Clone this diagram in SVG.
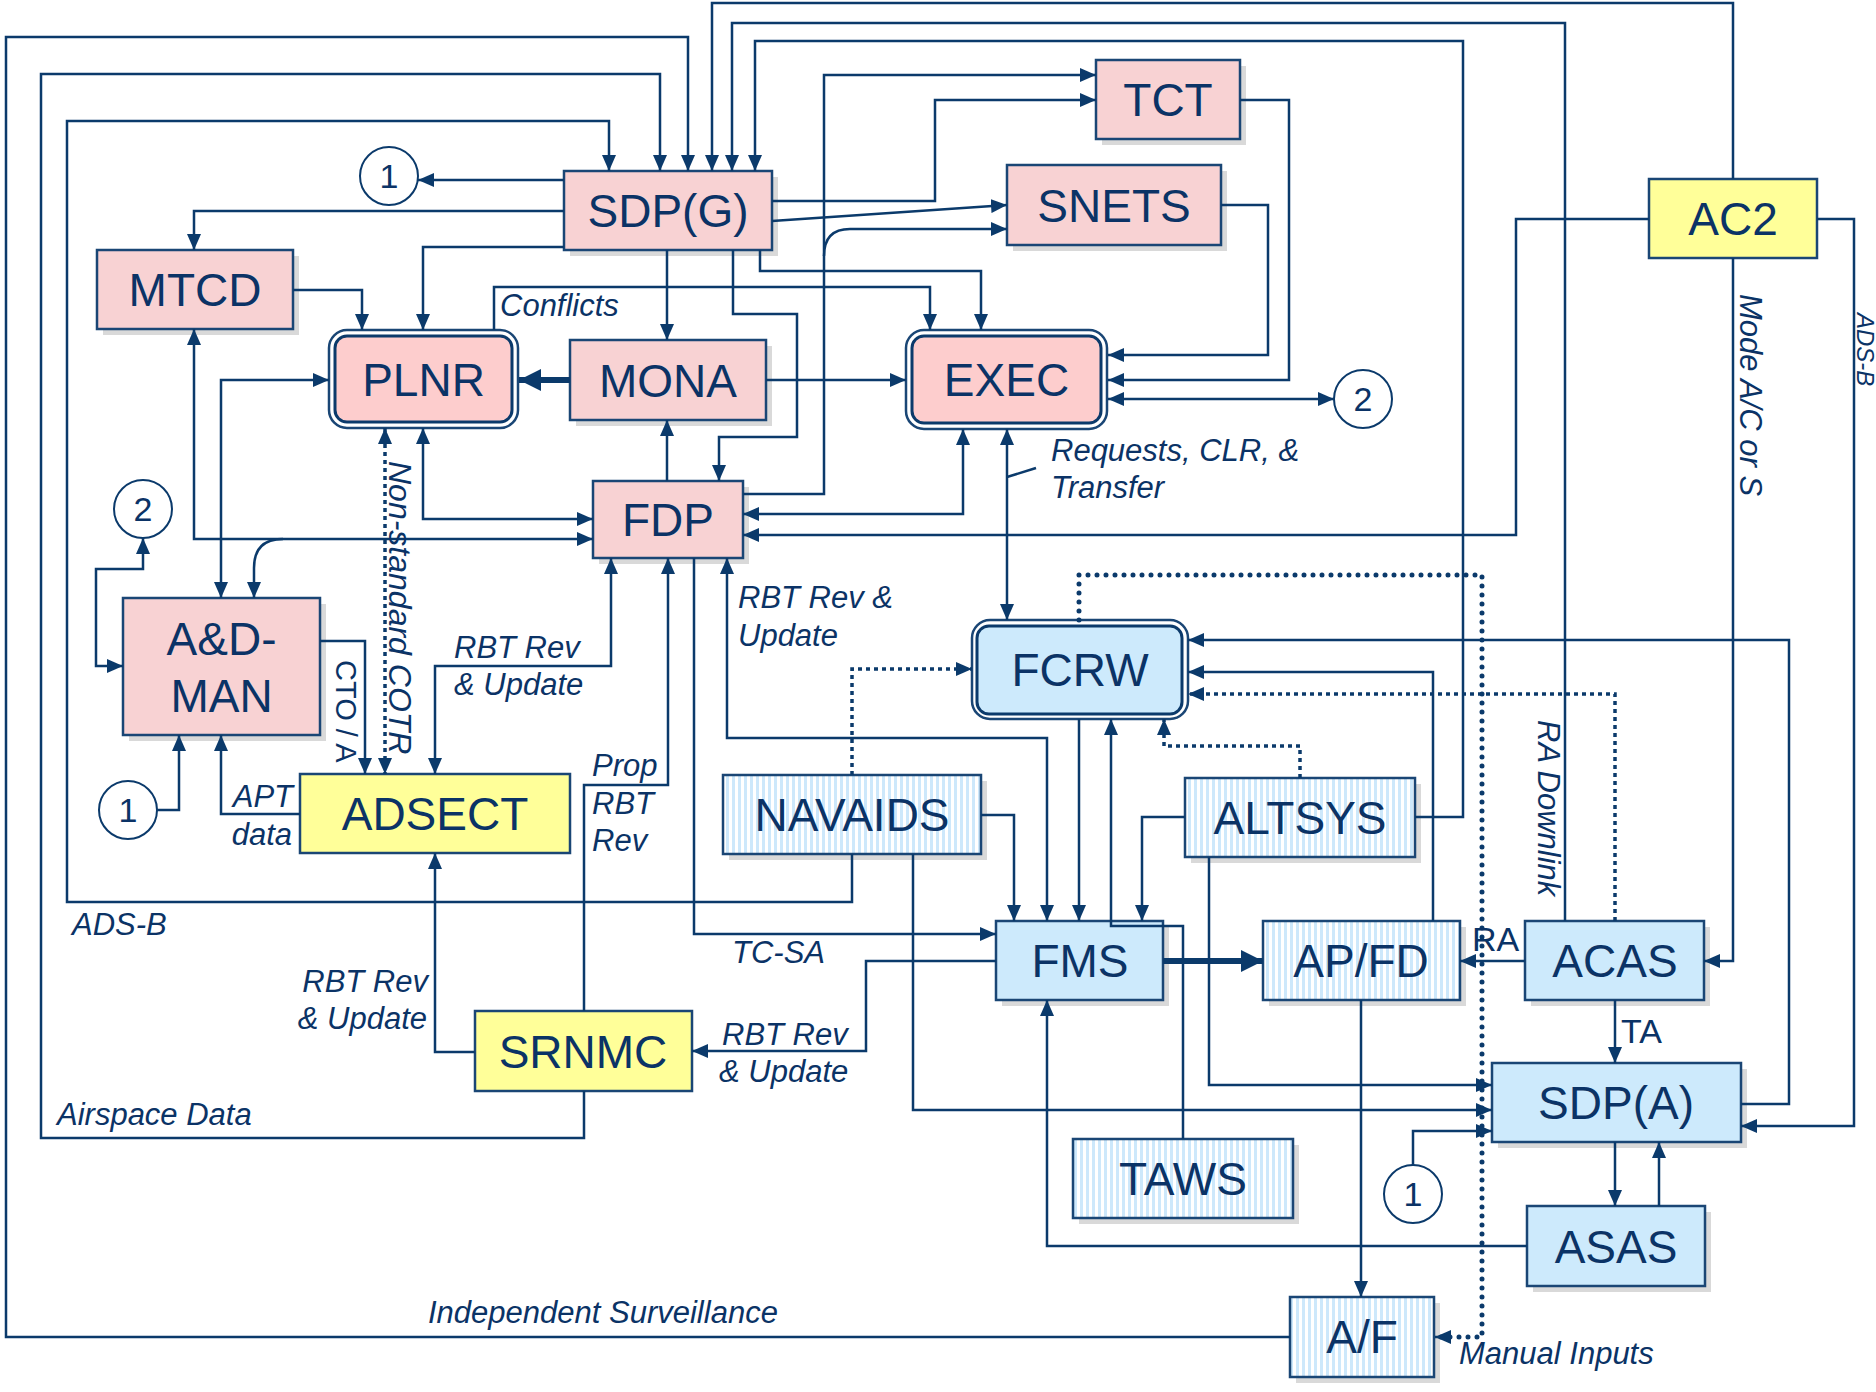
<svg xmlns="http://www.w3.org/2000/svg" width="1876" height="1392" viewBox="0 0 1876 1392">
<defs>
<style>
.ln{fill:none;stroke:#0b3a6b;stroke-width:2.5}
.tk{stroke-width:6}
.dt{stroke-dasharray:4 4;stroke-width:3.5}
.rd{stroke-dasharray:0 9;stroke-linecap:round;stroke-width:5}
.bx{stroke:#1a4675;stroke-width:2.5}
.pk{fill:#f8d2d3}
.pk2{fill:#fdcdcd}
.yl{fill:#ffff99}
.bl{fill:#cdeafc}
.st{fill:url(#stripe)}
.sh{fill:#d9d9d9}
.wh{fill:#ffffff}
.cr{fill:#ffffff;stroke:#0b3a6b;stroke-width:2}
.nl{font-family:"Liberation Sans",Arial,sans-serif;font-size:46px;fill:#0b3366;text-anchor:middle}
.cn{font-family:"Liberation Sans",Arial,sans-serif;font-size:34px;fill:#0b3366;text-anchor:middle}
.it{font-family:"Liberation Sans",Arial,sans-serif;font-size:31px;font-style:italic;fill:#0b3366}
.up{font-family:"Liberation Sans",Arial,sans-serif;font-size:34px;fill:#0b3366}
.ra{text-anchor:end}
</style>
<marker id="ah" viewBox="0 0 16 14" refX="16" refY="7" markerWidth="16" markerHeight="14" markerUnits="userSpaceOnUse" orient="auto-start-reverse"><path d="M0,0 L16,7 L0,14 z" fill="#0b3a6b"/></marker>
<marker id="ahb" viewBox="0 0 22 22" refX="22" refY="11" markerWidth="22" markerHeight="22" markerUnits="userSpaceOnUse" orient="auto"><path d="M0,0 L22,11 L0,22 z" fill="#0b3a6b"/></marker>
<pattern id="stripe" width="6" height="10" patternUnits="userSpaceOnUse"><rect width="6" height="10" fill="#ffffff"/><rect width="3" height="10" fill="#cde8fb"/></pattern>
</defs>
<rect width="1876" height="1392" fill="#ffffff"/>

<g id="SDPG"><rect class="sh" x="570" y="177" width="208" height="79"/><rect class="bx pk" x="564" y="171" width="208" height="79"/><text class="nl" x="668" y="227">SDP(G)</text></g>
<g id="MTCD"><rect class="sh" x="103" y="256" width="196" height="79"/><rect class="bx pk" x="97" y="250" width="196" height="79"/><text class="nl" x="195" y="306">MTCD</text></g>
<g id="PLNR"><rect class="bx wh" x="329" y="330" width="189" height="98" rx="18"/><rect class="pk2" x="335" y="336" width="177" height="86" rx="12" stroke="#0b3a6b" stroke-width="3"/><text class="nl" x="423.5" y="396">PLNR</text></g>
<g id="MONA"><rect class="sh" x="576" y="346" width="196" height="80"/><rect class="bx pk" x="570" y="340" width="196" height="80"/><text class="nl" x="668" y="397">MONA</text></g>
<g id="FDP"><rect class="sh" x="599" y="487" width="150" height="77"/><rect class="bx pk" x="593" y="481" width="150" height="77"/><text class="nl" x="668" y="536">FDP</text></g>
<g id="TCT"><rect class="sh" x="1102" y="66" width="144" height="79"/><rect class="bx pk" x="1096" y="60" width="144" height="79"/><text class="nl" x="1168" y="116">TCT</text></g>
<g id="SNETS"><rect class="sh" x="1013" y="171" width="214" height="80"/><rect class="bx pk" x="1007" y="165" width="214" height="80"/><text class="nl" x="1114" y="222">SNETS</text></g>
<g id="EXEC"><rect class="bx wh" x="906" y="330" width="201" height="99" rx="18"/><rect class="pk2" x="912" y="336" width="189" height="87" rx="12" stroke="#0b3a6b" stroke-width="3"/><text class="nl" x="1006.5" y="396">EXEC</text></g>
<g id="AC2"><rect class="bx yl" x="1649" y="179" width="168" height="79"/><text class="nl" x="1733" y="235">AC2</text></g>
<g id="ADMAN"><rect class="sh" x="129" y="604" width="197" height="137"/><rect class="bx pk" x="123" y="598" width="197" height="137"/><text class="nl" x="221.5" y="655">A&amp;D-</text><text class="nl" x="221.5" y="712">MAN</text></g>
<g id="ADSECT"><rect class="bx yl" x="300" y="774" width="270" height="79"/><text class="nl" x="435" y="830">ADSECT</text></g>
<g id="NAVAIDS"><rect class="sh" x="729" y="781" width="258" height="79"/><rect class="bx st" x="723" y="775" width="258" height="79"/><text class="nl" x="852" y="831">NAVAIDS</text></g>
<g id="ALTSYS"><rect class="sh" x="1191" y="784" width="230" height="79"/><rect class="bx st" x="1185" y="778" width="230" height="79"/><text class="nl" x="1300" y="834">ALTSYS</text></g>
<g id="FCRW"><rect class="bx wh" x="972" y="620" width="216" height="99" rx="18"/><rect class="bl" x="977" y="626" width="205" height="88" rx="12" stroke="#0b3a6b" stroke-width="3"/><text class="nl" x="1080" y="686">FCRW</text></g>
<g id="FMS"><rect class="sh" x="1002" y="927" width="167" height="79"/><rect class="bx bl" x="996" y="921" width="167" height="79"/><text class="nl" x="1080" y="977">FMS</text></g>
<g id="APFD"><rect class="sh" x="1269" y="927" width="197" height="79"/><rect class="bx st" x="1263" y="921" width="197" height="79"/><text class="nl" x="1361" y="977">AP/FD</text></g>
<g id="ACAS"><rect class="sh" x="1531" y="927" width="179" height="79"/><rect class="bx bl" x="1525" y="921" width="179" height="79"/><text class="nl" x="1615" y="977">ACAS</text></g>
<g id="SDPA"><rect class="sh" x="1498" y="1069" width="249" height="79"/><rect class="bx bl" x="1492" y="1063" width="249" height="79"/><text class="nl" x="1616" y="1119">SDP(A)</text></g>
<g id="ASAS"><rect class="sh" x="1533" y="1212" width="178" height="80"/><rect class="bx bl" x="1527" y="1206" width="178" height="80"/><text class="nl" x="1616" y="1263">ASAS</text></g>
<g id="TAWS"><rect class="sh" x="1079" y="1145" width="220" height="79"/><rect class="bx st" x="1073" y="1139" width="220" height="79"/><text class="nl" x="1183" y="1195">TAWS</text></g>
<g id="AF"><rect class="sh" x="1296" y="1303" width="144" height="80"/><rect class="bx st" x="1290" y="1297" width="144" height="80"/><text class="nl" x="1362" y="1353">A/F</text></g>
<g id="SRNMC"><rect class="bx yl" x="475" y="1011" width="217" height="80"/><text class="nl" x="583" y="1068">SRNMC</text></g>
<g id="C1a"><ellipse class="cr" cx="389" cy="176" rx="29" ry="29"/><text class="cn" x="389" y="188">1</text></g>
<g id="C2a"><ellipse class="cr" cx="1363" cy="399" rx="29" ry="29"/><text class="cn" x="1363" y="411">2</text></g>
<g id="C2b"><ellipse class="cr" cx="143" cy="509" rx="29" ry="29"/><text class="cn" x="143" y="521">2</text></g>
<g id="C1b"><ellipse class="cr" cx="128" cy="810" rx="29" ry="29"/><text class="cn" x="128" y="822">1</text></g>
<g id="C1c"><ellipse class="cr" cx="1413" cy="1194" rx="29" ry="29"/><text class="cn" x="1413" y="1206">1</text></g>

<g id="connectors">
<path class="ln" d="M852,854 V902 H67 V121 H609 V171" marker-end="url(#ah)"/>
<path class="ln" d="M584,1091 V1138 H41 V74 H660 V171" marker-end="url(#ah)"/>
<path class="ln" d="M1290,1337 H6 V37 H688 V171" marker-end="url(#ah)"/>
<path class="ln" d="M1733,179 V3 H712 V171" marker-end="url(#ah)"/>
<path class="ln" d="M1565,921 V23 H732 V171" marker-end="url(#ah)"/>
<path class="ln" d="M1415,817 H1463 V41 H755 V171" marker-end="url(#ah)"/>
<path class="ln" d="M564,180 H418" marker-end="url(#ah)"/>
<path class="ln" d="M564,211 H194 V250" marker-end="url(#ah)"/>
<path class="ln" d="M564,247 H423 V330" marker-end="url(#ah)"/>
<path class="ln" d="M667,250 V340" marker-end="url(#ah)"/>
<path class="ln" d="M733,250 V314 H797 V437 H719 V481" marker-end="url(#ah)"/>
<path class="ln" d="M760,250 V271 H981 V330" marker-end="url(#ah)"/>
<path class="ln" d="M772,201 H935 V100 H1096" marker-end="url(#ah)"/>
<path class="ln" d="M772,221 L1007,205" marker-end="url(#ah)"/>
<path class="ln" d="M743,494 H824 V75 H1096" marker-end="url(#ah)"/>
<path class="ln" d="M824,256 Q824,229 850,229 H1007" marker-end="url(#ah)"/>
<path class="ln" d="M1240,100 H1289 V380 H1108" marker-end="url(#ah)"/>
<path class="ln" d="M1221,205 H1268 V355 H1108" marker-end="url(#ah)"/>
<path class="ln" d="M1108,399 H1334" marker-start="url(#ah)" marker-end="url(#ah)"/>
<path class="ln" d="M766,380 H906" marker-end="url(#ah)"/>
<path class="ln tk" d="M570,380 H519" marker-end="url(#ahb)"/>
<path class="ln" d="M494,330 V287 H930 V330" marker-end="url(#ah)"/>
<path class="ln" d="M293,290 H362 V330" marker-end="url(#ah)"/>
<path class="ln" d="M194,329 V539 H593" marker-start="url(#ah)" marker-end="url(#ah)"/>
<path class="ln" d="M283,539 Q254,539 254,568 V598" marker-end="url(#ah)"/>
<path class="ln" d="M329,380 H221 V598" marker-start="url(#ah)" marker-end="url(#ah)"/>
<path class="ln" d="M423,428 V519 H593" marker-start="url(#ah)" marker-end="url(#ah)"/>
<path class="ln dt" d="M385,428 V774" marker-start="url(#ah)" marker-end="url(#ah)"/>
<path class="ln" d="M320,641 H365 V774" marker-end="url(#ah)"/>
<path class="ln" d="M435,774 V666 H611 V558" marker-start="url(#ah)" marker-end="url(#ah)"/>
<path class="ln" d="M584,1011 V785 H668 V558" marker-end="url(#ah)"/>
<path class="ln" d="M694,558 V934 H996" marker-end="url(#ah)"/>
<path class="ln" d="M727,558 V738 H1047 V921" marker-start="url(#ah)" marker-end="url(#ah)"/>
<path class="ln" d="M963,429 V514 H743" marker-start="url(#ah)" marker-end="url(#ah)"/>
<path class="ln" d="M1649,219 H1516 V535 H743" marker-end="url(#ah)"/>
<path class="ln" d="M1007,429 V620" marker-start="url(#ah)" marker-end="url(#ah)"/>
<path class="ln" d="M1007,477 L1036,468"/>
<path class="ln" d="M1079,719 V921" marker-end="url(#ah)"/>
<path class="ln" d="M1183,1139 V926 H1111 V719" marker-end="url(#ah)"/>
<path class="ln" d="M1185,817 H1142 V921" marker-end="url(#ah)"/>
<path class="ln" d="M981,815 H1014 V921" marker-end="url(#ah)"/>
<path class="ln dt" d="M852,775 V669 H972" marker-end="url(#ah)"/>
<path class="ln dt" d="M1300,778 V746 H1164 V719" marker-end="url(#ah)"/>
<path class="ln rd" d="M1079,620 V575 H1482 V1337 H1437"/>
<path class="ln" d="M1446,1337 H1435" marker-end="url(#ah)"/>
<path class="ln dt" d="M1615,921 V694 H1188" marker-end="url(#ah)"/>
<path class="ln" d="M1433,921 V672 H1188" marker-end="url(#ah)"/>
<path class="ln" d="M1741,1104 H1789 V640 H1188" marker-end="url(#ah)"/>
<path class="ln tk" d="M1163,961 H1263" marker-end="url(#ahb)"/>
<path class="ln" d="M1525,961 H1460" marker-end="url(#ah)"/>
<path class="ln" d="M1615,1000 V1063" marker-end="url(#ah)"/>
<path class="ln" d="M1209,857 V1085 H1492" marker-end="url(#ah)"/>
<path class="ln" d="M913,854 V1110 H1492" marker-end="url(#ah)"/>
<path class="ln" d="M1413,1165 V1131 H1492" marker-end="url(#ah)"/>
<path class="ln" d="M1615,1142 V1206" marker-end="url(#ah)"/>
<path class="ln" d="M1659,1206 V1142" marker-end="url(#ah)"/>
<path class="ln" d="M1527,1246 H1047 V1000" marker-end="url(#ah)"/>
<path class="ln" d="M1361,1000 V1297" marker-end="url(#ah)"/>
<path class="ln" d="M996,961 H866 V1051 H692" marker-end="url(#ah)"/>
<path class="ln" d="M475,1052 H435 V853" marker-end="url(#ah)"/>
<path class="ln" d="M300,814 H221 V735" marker-end="url(#ah)"/>
<path class="ln" d="M157,810 H179 V735" marker-end="url(#ah)"/>
<path class="ln" d="M143,538 V569 H96 V666 H123" marker-start="url(#ah)" marker-end="url(#ah)"/>
<path class="ln" d="M667,481 V420" marker-end="url(#ah)"/>
<path class="ln" d="M1733,258 V961 H1704" marker-end="url(#ah)"/>
<path class="ln" d="M1817,219 H1854 V1126 H1741" marker-end="url(#ah)"/>
</g>

<g id="labels">
<text class="it" x="500" y="316">Conflicts</text>
<text class="it" x="1051" y="461">Requests, CLR, &amp;</text>
<text class="it" x="1051" y="498">Transfer</text>
<text class="it" x="738" y="608">RBT Rev &amp;</text>
<text class="it" x="738" y="646">Update</text>
<text class="it" x="454" y="658">RBT Rev</text>
<text class="it" x="454" y="695">&amp; Update</text>
<text class="it" x="592" y="776">Prop</text>
<text class="it" x="592" y="814">RBT</text>
<text class="it" x="592" y="851">Rev</text>
<text class="it ra" x="293" y="807">APT</text>
<text class="it ra" x="292" y="845">data</text>
<text class="it" x="72" y="935">ADS-B</text>
<text class="it" x="732" y="963">TC-SA</text>
<text class="it ra" x="428" y="992">RBT Rev</text>
<text class="it ra" x="427" y="1029">&amp; Update</text>
<text class="it" x="722" y="1045">RBT Rev</text>
<text class="it" x="719" y="1082">&amp; Update</text>
<text class="it" x="57" y="1125">Airspace Data</text>
<text class="it" x="428" y="1323">Independent Surveillance</text>
<text class="it" x="1459" y="1364">Manual Inputs</text>
<text class="up" x="1472" y="951">RA</text>
<text class="up" x="1621" y="1043">TA</text>
<text class="it" transform="translate(1740,294) rotate(90)">Mode A/C or S</text>
<text class="it" transform="translate(1538,720) rotate(90)">RA Downlink</text>
<text class="it" transform="translate(1857,313) rotate(90)" style="font-size:24px">ADS-B</text>
<text class="it" transform="translate(389,461) rotate(90)" style="font-size:32px">Non-standard COTR</text>
<text class="up" transform="translate(336,660) rotate(90)" style="font-size:29px">CTO / A</text>
</g>
</svg>
